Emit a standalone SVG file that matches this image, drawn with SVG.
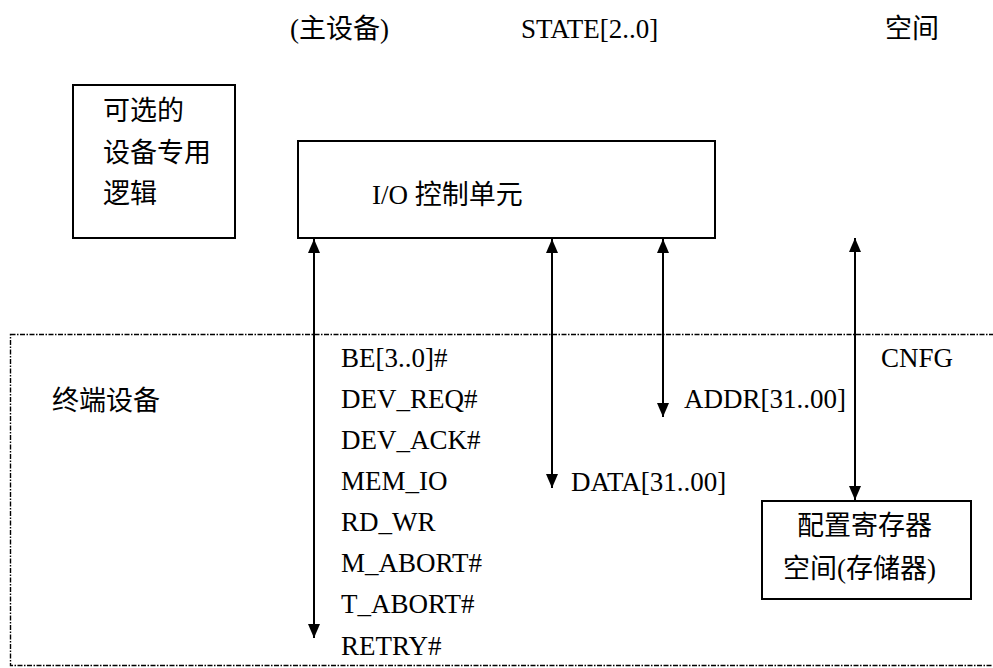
<svg xmlns="http://www.w3.org/2000/svg" width="993" height="668" viewBox="0 0 993 668">
<style>
text{font-family:"Liberation Serif","Noto Sans CJK SC",serif;font-size:27px;fill:#000}
.box{fill:#fff;stroke:#000;stroke-width:2}
.dash{fill:none;stroke:#000;stroke-width:1.4;stroke-dasharray:5,1.5,1.5,1.5}
.conn{stroke:#000;stroke-width:2;fill:none}
</style>
<defs>
<marker id="ah" viewBox="0 0 14 12" refX="14" refY="6" markerWidth="14" markerHeight="12" orient="auto-start-reverse" markerUnits="userSpaceOnUse">
<path d="M0,0 L14,6 L0,12 z" fill="#000"/>
</marker>
</defs>
<rect width="993" height="668" fill="#fff"/>
<g id="top-labels">
<text x="290" y="38">(主设备)</text>
<text x="521" y="38">STATE[2..0]</text>
<text x="885" y="38">空间</text>
</g>
<g id="terminal-device">
<rect class="dash" x="10.5" y="334.5" width="990" height="331"/>
<text x="52" y="410">终端设备</text>
</g>
<g id="optional-logic">
<rect class="box" x="73" y="85" width="162" height="153"/>
<text x="103" y="120">可选的</text>
<text x="103" y="162">设备专用</text>
<text x="103" y="203">逻辑</text>
</g>
<g id="io-control">
<rect class="box" x="298" y="141" width="417" height="97"/>
<text x="372" y="204">I/O 控制单元</text>
</g>
<g id="config-space">
<rect class="box" x="762" y="501" width="209" height="98"/>
<text x="797" y="535">配置寄存器</text>
<text x="783" y="578">空间(存储器)</text>
</g>
<g id="connectors">
<line class="conn" x1="314" y1="239" x2="314" y2="638" marker-start="url(#ah)" marker-end="url(#ah)"/>
<line class="conn" x1="552" y1="239" x2="552" y2="488" marker-start="url(#ah)" marker-end="url(#ah)"/>
<line class="conn" x1="663" y1="239" x2="663" y2="417" marker-start="url(#ah)" marker-end="url(#ah)"/>
<line class="conn" x1="855" y1="238" x2="855" y2="500" marker-start="url(#ah)" marker-end="url(#ah)"/>
</g>
<g id="labels">
<text x="341" y="367">BE[3..0]#</text>
<text x="341" y="408">DEV_REQ#</text>
<text x="341" y="449">DEV_ACK#</text>
<text x="341" y="490">MEM_IO</text>
<text x="341" y="531">RD_WR</text>
<text x="341" y="572">M_ABORT#</text>
<text x="341" y="613">T_ABORT#</text>
<text x="341" y="655">RETRY#</text>
<text x="684" y="408">ADDR[31..00]</text>
<text x="571" y="491">DATA[31..00]</text>
<text x="881" y="367">CNFG</text>
</g>
</svg>
